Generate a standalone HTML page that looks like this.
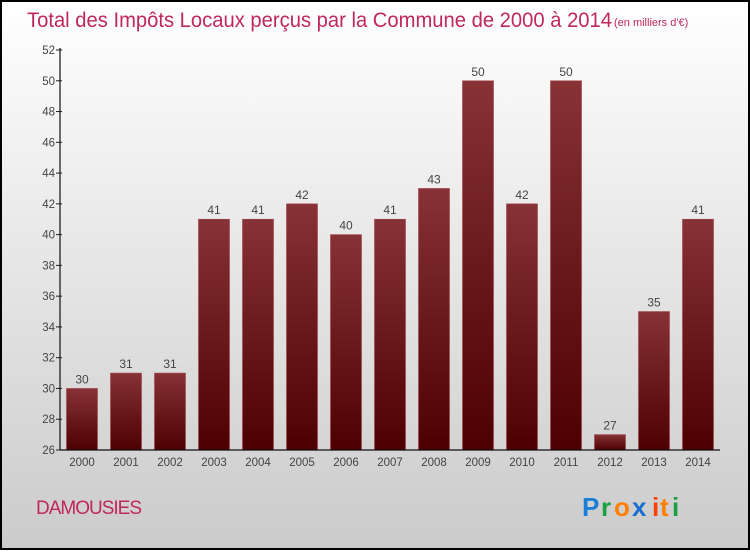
<!DOCTYPE html>
<html><head><meta charset="utf-8"><style>
body{margin:0;width:750px;height:550px;overflow:hidden}
svg text{font-family:"Liberation Sans",sans-serif}
</style></head><body>
<svg width="750" height="550" xmlns="http://www.w3.org/2000/svg">
<defs>
<linearGradient id="bg" x1="0" y1="0" x2="0" y2="1"><stop offset="0" stop-color="#ffffff"/><stop offset="1" stop-color="#cbcbcb"/></linearGradient>
<linearGradient id="bar" x1="0" y1="0" x2="0" y2="1"><stop offset="0" stop-color="#873236"/><stop offset="1" stop-color="#4e0000"/></linearGradient>
</defs>
<rect x="1" y="1" width="748" height="548" fill="url(#bg)" stroke="#000" stroke-width="2"/>
<text x="27" y="27" font-size="21" fill="#c0285a" textLength="585" lengthAdjust="spacingAndGlyphs">Total des Impôts Locaux perçus par la Commune de 2000 à 2014</text>
<text x="614" y="26" font-size="11" fill="#c0285a">(en milliers d'€)</text>
<g id="plot"></g>
<text x="36" y="514" font-size="19" fill="#c0285a" letter-spacing="-1">DAMOUSIES</text>
<g font-size="26" font-weight="bold">
<text x="582" y="516" fill="#1a7fd6">P</text><text x="601" y="516" fill="#1aa040">r</text><text x="614" y="516" fill="#ff8000">o</text><text x="632" y="516" fill="#1a6fd0">x</text><text x="652" y="516" fill="#ff4000">i</text><text x="660" y="516" fill="#ff8000">t</text><text x="672" y="516" fill="#1aa040">i</text>
</g>
</svg>
<script>
const years=["2000","2001","2002","2003","2004","2005","2006","2007","2008","2009","2010","2011","2012","2013","2014"];
const values=[30,31,31,41,41,42,40,41,43,50,42,50,27,35,41];
const yTicks=[26,28,30,32,34,36,38,40,42,44,46,48,50,52];
const NS="http://www.w3.org/2000/svg";
const g=document.getElementById('plot');
const y0=450,y1=50,vmin=26,vmax=52;
const y=v=>y0-(v-vmin)/(vmax-vmin)*(y0-y1);
const x=i=>82+i*44;
function mk(t,a,txt){const e=document.createElementNS(NS,t);for(const k in a)e.setAttribute(k,a[k]);if(txt!=null)e.textContent=txt;g.appendChild(e);return e;}
values.forEach((v,i)=>{
 const r=mk('rect',{x:x(i)-15.5,y:y(v),width:31,height:y0-y(v),fill:'url(#bar)',stroke:'#a04448','stroke-width':0.6});
 
 
 const t=mk('text',{x:x(i),y:y(v)-5,'font-size':12,fill:'#444','text-anchor':'middle'},String(v));
 
 
 const xl=mk('text',{x:x(i),y:466,'font-size':11.5,fill:'#444','text-anchor':'middle'},years[i]);
 
 
});
yTicks.forEach(v=>{
 const l=mk('line',{x1:56,x2:62,y1:y(v),y2:y(v),stroke:'#222'});
 
 
 const t=mk('text',{x:55,y:y(v)+4,'font-size':11.5,fill:'#444','text-anchor':'end'},String(v));
 
 
});
const ya=mk('line',{x1:60,x2:60,y1:y1-2,y2:y0,stroke:'#111','stroke-width':1.2});


const xa=mk('line',{x1:60,x2:720,y1:y0,y2:y0,stroke:'#111','stroke-width':1.2});


</script>
</body></html>
